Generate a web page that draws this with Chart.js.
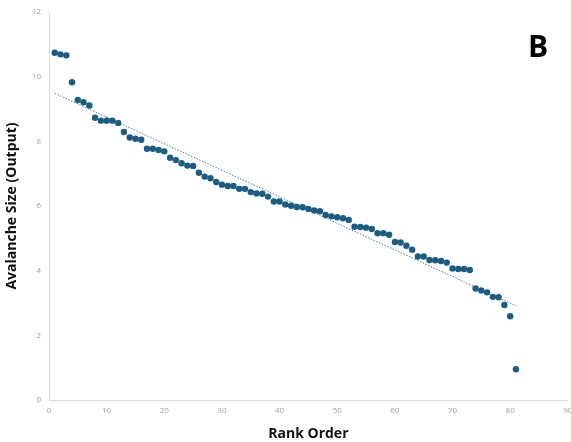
<!DOCTYPE html>
<html lang="en">
<head>
    <meta charset="UTF-8">
    <title>Avalanche Size vs Rank Order</title>
    <script src="https://cdn.jsdelivr.net/npm/chart.js"></script>
    <style>
        * { margin: 0; padding: 0; box-sizing: border-box; }
        body { background: #fff; }
        .chart-container { width: 571px; height: 442px; position: relative; }
    </style>
</head>
<body>
    <div class="chart-container">
        <canvas id="avalancheChart"></canvas>
    </div>

    <script>
        // rank order 1..81 and avalanche sizes
        const ranks = [];
        for (let i = 1; i <= 81; i++) ranks.push(i);
        const sizes = [
            10.74, 10.69, 10.66, 9.83, 9.28, 9.21, 9.11, 8.73, 8.64, 8.64,
            8.64, 8.57, 8.29, 8.12, 8.08, 8.05, 7.77, 7.77, 7.73, 7.69,
            7.49, 7.42, 7.32, 7.25, 7.24, 7.03, 6.91, 6.86, 6.74, 6.66,
            6.62, 6.62, 6.53, 6.53, 6.43, 6.39, 6.38, 6.29, 6.14, 6.14,
            6.05, 6.01, 5.97, 5.96, 5.91, 5.86, 5.84, 5.72, 5.68, 5.65,
            5.62, 5.57, 5.36, 5.35, 5.33, 5.29, 5.16, 5.16, 5.11, 4.89,
            4.87, 4.77, 4.65, 4.44, 4.44, 4.33, 4.32, 4.30, 4.25, 4.07,
            4.05, 4.05, 4.02, 3.45, 3.39, 3.33, 3.19, 3.18, 2.94, 2.59,
            0.95
        ];
        const xTicks = [0, 10, 20, 30, 40, 50, 60, 70, 80, 90];
        const yTicks = [0, 2, 4, 6, 8, 10, 12];

        // least squares trendline through the points
        const n = ranks.length;
        const mx = ranks.reduce((a, b) => a + b, 0) / n;
        const my = sizes.reduce((a, b) => a + b, 0) / n;
        let sxy = 0, sxx = 0;
        ranks.forEach((x, i) => { sxy += (x - mx) * (sizes[i] - my); sxx += (x - mx) * (x - mx); });
        const slope = sxy / sxx;
        const icpt = my - slope * mx;
        const trend = [ranks[0], ranks[n - 1]].map(x => ({ x: x, y: icpt + slope * x }));

        const dotColor = '#1b5c82';
        const tickFont = { family: 'Open Sans', size: 8 };
        const titleFont = { family: 'Open Sans', size: 14, weight: 'bold' };

        const panelLabel = {
            id: 'panelLabel',
            afterDraw(chart) {
                const c = chart.ctx;
                c.save();
                c.fillStyle = '#000';
                c.font = 'bold 30px "Open Sans"';
                c.textAlign = 'center';
                c.textBaseline = 'middle';
                c.fillText('B', 538, 48);
                c.restore();
            }
        };

        const ctx = document.getElementById('avalancheChart').getContext('2d');
        new Chart(ctx, {
            type: 'scatter',
            data: {
                datasets: [
                    {
                        label: 'Avalanche size',
                        data: ranks.map((x, i) => ({ x: x, y: sizes[i] })),
                        backgroundColor: dotColor,
                        borderColor: dotColor,
                        borderWidth: 0,
                        pointRadius: 3.2,
                        pointHoverRadius: 3.2,
                        order: 1
                    },
                    {
                        type: 'line',
                        label: 'Linear trend',
                        data: trend,
                        borderColor: '#3f7fa3',
                        borderWidth: 1,
                        borderDash: [1.5, 1.5],
                        pointRadius: 0,
                        fill: false,
                        order: 2
                    }
                ]
            },
            options: {
                responsive: true,
                maintainAspectRatio: false,
                animation: false,
                layout: { padding: { left: 4, right: 2, top: 12, bottom: 0 } },
                plugins: {
                    legend: { display: false },
                    tooltip: { enabled: false }
                },
                scales: {
                    x: {
                        type: 'linear',
                        min: 0, max: 90,
                        afterBuildTicks: s => { s.ticks = xTicks.map(v => ({ value: v })); },
                        afterFit: s => { s.height = 42; s.paddingLeft = 0; s.paddingRight = 0; },
                        grid: { display: false, drawTicks: false },
                        border: { color: '#d9d9d9', width: 1 },
                        ticks: { color: '#a0a0a0', font: tickFont, padding: 6, maxRotation: 0 },
                        title: { display: true, text: 'Rank Order', color: '#111', font: titleFont, padding: { top: 2, bottom: 0 } }
                    },
                    y: {
                        min: 0, max: 12,
                        afterBuildTicks: s => { s.ticks = yTicks.map(v => ({ value: v })); },
                        afterFit: s => { s.width = 45; s.paddingTop = 0; s.paddingBottom = 0; },
                        grid: { display: false, drawTicks: false },
                        border: { color: '#d9d9d9', width: 1 },
                        ticks: { color: '#a0a0a0', font: tickFont, padding: 8 },
                        title: { display: true, text: 'Avalanche Size (Output)', color: '#111', font: titleFont, padding: { top: 0, bottom: 4 } }
                    }
                }
            },
            plugins: [panelLabel]
        });
    </script>
</body>
</html>
